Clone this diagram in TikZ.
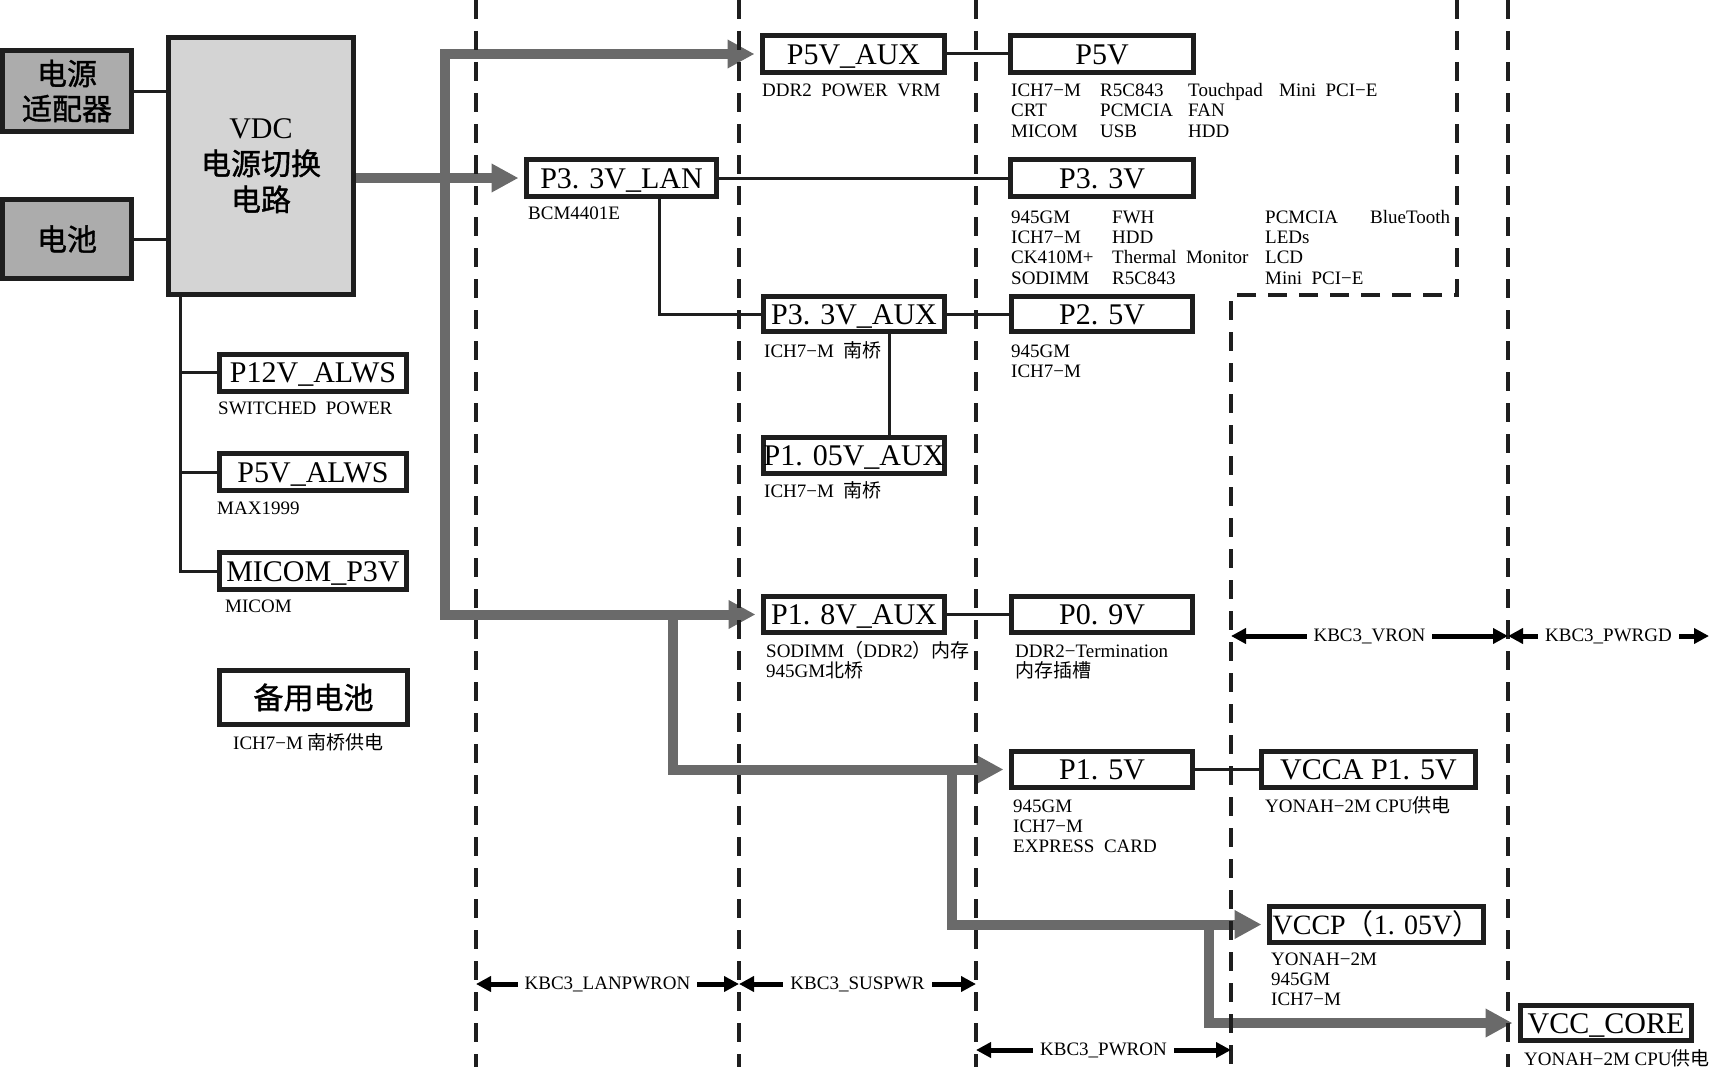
\documentclass[tikz,border=0pt]{standalone}
\usepackage{fontspec}
\setmainfont{Liberation Serif}
\newfontfamily\cjk{Noto Sans CJK SC}
\newfontfamily\cjkb[FakeBold=1.2]{Noto Sans CJK SC}
\usetikzlibrary{arrows.meta,calc}
\definecolor{gfill}{RGB}{172,172,172}
\definecolor{lfill}{RGB}{212,212,212}
\definecolor{garr}{RGB}{106,106,106}
\definecolor{dk}{RGB}{30,30,30}
\begin{document}
\begin{tikzpicture}[x=1pt,y=-1pt,
 frame/.style={draw=dk,line width=5pt,fill=white,inner sep=0pt,minimum height=37pt,font=\fontsize{30}{32}\selectfont},
 bx/.style={frame,text height=21pt,text depth=1pt},
 lbl/.style={anchor=base west,inner sep=0pt,font=\fontsize{19}{20}\selectfont},
 conn/.style={draw=dk,line width=3pt},
 garrow/.style={draw=garr,line width=10pt,line join=miter,shorten >=5.5pt,-{Triangle[length=27pt,width=27pt]}},
 garrow2/.style={draw=garr,line width=10pt,line join=miter,shorten >=5.5pt,shorten <=5.5pt,{Triangle[length=27pt,width=27pt]}-{Triangle[length=27pt,width=27pt]}},
 dline/.style={draw=dk,line width=4pt,dash pattern=on 19pt off 12pt},
 kbc/.style={draw=black,line width=5pt,{Triangle[length=15pt,width=15pt]}-{Triangle[length=15pt,width=15pt]}},
 kbct/.style={fill=white,inner xsep=7pt,inner ysep=1pt,font=\fontsize{19}{20}\selectfont}
]
\useasboundingbox (0,0) rectangle (1711,1073);

% ---------- boxes ----------
\node[frame,fill=gfill,minimum width=129pt,minimum height=81pt,align=center,font=\fontsize{30}{35}\selectfont\cjkb] (adp) at (67,91) {电源\\适配器};
\node[frame,fill=gfill,minimum width=129pt,minimum height=79pt,font=\fontsize{30}{35}\selectfont\cjkb] (bat) at (67,239) {电池};
\node[frame,fill=lfill,minimum width=185pt,minimum height=257pt,align=center,font=\fontsize{30}{36}\selectfont] (vdc) at (261,166) {VDC\\{\cjkb 电源切换}\\{\cjkb 电路}};

\node[bx,minimum width=187pt] (p12) at (313,372.5) {P12V\_ALWS};
\node[bx,minimum width=187pt] (p5a) at (313,472) {P5V\_ALWS};
\node[bx,minimum width=187pt] (mic) at (313,571) {MICOM\_P3V};
\node[frame,minimum width=188pt,minimum height=54pt,font=\fontsize{30}{32}\selectfont\cjkb] (bkb) at (313.5,697.5) {备用电池};

\node[bx,minimum width=182pt] (p5vaux) at (853.5,54) {P5V\_AUX};
\node[bx,minimum width=190pt] (p33lan) at (621.5,178) {P3. 3V\_LAN};
\node[bx,minimum width=181pt,minimum height=35pt] (p33aux) at (854,314) {P3. 3V\_AUX};
\node[bx,minimum width=181pt,minimum height=36pt] (p105) at (854,455.5) {P1. 05V\_AUX};
\node[bx,minimum width=181pt,minimum height=36pt] (p18aux) at (854,614.5) {P1. 8V\_AUX};

\node[bx,minimum width=183pt] (p5v) at (1102,54) {P5V};
\node[bx,minimum width=183pt] (p33) at (1102,178) {P3. 3V};
\node[bx,minimum width=181pt,minimum height=35pt] (p25) at (1102,314) {P2. 5V};
\node[bx,minimum width=181pt,minimum height=36pt] (p09) at (1102,614.5) {P0. 9V};
\node[bx,minimum width=181pt,minimum height=36pt] (p15) at (1102,769.5) {P1. 5V};
\node[bx,minimum width=214pt,minimum height=36pt] (vcca) at (1368.5,769.5) {VCCA P1. 5V};
\node[bx,minimum width=214pt,minimum height=36pt,font=\fontsize{28}{30}\selectfont] (vccp) at (1376.5,924.5) {VCCP{\cjk （}1. 05V{\cjk ）}};
\node[bx,minimum width=171pt,minimum height=35pt] (vcore) at (1606,1023) {VCC\_CORE};

% ---------- labels ----------
\node[lbl] (t01) at (218,414) {SWITCHED\ \ POWER};
\node[lbl] (t02) at (217,514) {MAX1999};
\node[lbl] (t03) at (225,612) {MICOM};
\node[lbl] (t04) at (233,749) {ICH7−M\ {\cjk 南桥供电}};
\node[lbl] (t05) at (762,96) {DDR2\ \ POWER\ \ VRM};
\node[lbl] (t06) at (528,219) {BCM4401E};

\node[lbl] (a11) at (1011,96) {ICH7−M};
\node[lbl] (a12) at (1100,96) {R5C843};
\node[lbl] (a13) at (1188,96) {Touchpad};
\node[lbl] (a14) at (1279,96) {Mini\ \ PCI−E};
\node[lbl] (a21) at (1011,117) {CRT};
\node[lbl] (a22) at (1100,117) {PCMCIA};
\node[lbl] (a23) at (1188,117) {FAN};
\node[lbl] (a31) at (1011,137) {MICOM};
\node[lbl] (a32) at (1100,137) {USB};
\node[lbl] (a33) at (1188,137) {HDD};

\node[lbl] (b11) at (1011,223) {945GM};
\node[lbl] (b12) at (1112,223) {FWH};
\node[lbl] (b13) at (1265,223) {PCMCIA};
\node[lbl] (b14) at (1370,223) {BlueTooth};
\node[lbl] (b21) at (1011,243) {ICH7−M};
\node[lbl] (b22) at (1112,243) {HDD};
\node[lbl] (b23) at (1265,243) {LEDs};
\node[lbl] (b31) at (1011,263) {CK410M+};
\node[lbl] (b32) at (1112,263) {Thermal\ \ Monitor};
\node[lbl] (b33) at (1265,263) {LCD};
\node[lbl] (b41) at (1011,284) {SODIMM};
\node[lbl] (b42) at (1112,284) {R5C843};
\node[lbl] (b43) at (1265,284) {Mini\ \ PCI−E};

\node[lbl] (t07) at (764,357) {ICH7−M\ \ {\cjk 南桥}};
\node[lbl] (t08) at (764,497) {ICH7−M\ \ {\cjk 南桥}};
\node[lbl] (t09) at (766,657) {SODIMM{\cjk （}DDR2{\cjk ）内存}};
\node[lbl] (t10) at (766,677) {945GM{\cjk 北桥}};
\node[lbl] (t11) at (1011,357) {945GM};
\node[lbl] (t12) at (1011,377) {ICH7−M};
\node[lbl] (t13) at (1015,657) {DDR2−Termination};
\node[lbl] (t14) at (1015,677) {\cjk 内存插槽};
\node[lbl] (t15) at (1013,812) {945GM};
\node[lbl] (t16) at (1013,832) {ICH7−M};
\node[lbl] (t17) at (1013,852) {EXPRESS\ \ CARD};
\node[lbl] (t18) at (1265,812) {YONAH−2M\ CPU{\cjk 供电}};
\node[lbl] (t19) at (1271,965) {YONAH−2M};
\node[lbl] (t20) at (1271,985) {945GM};
\node[lbl] (t21) at (1271,1005) {ICH7−M};
\node[lbl] (t22) at (1524,1065) {YONAH−2M\ CPU{\cjk 供电}};

% ---------- black connectors ----------
\draw[conn] (adp.east) -- (adp.east -| vdc.west);
\draw[conn] (bat.east) -- (bat.east -| vdc.west);
\coordinate (vb) at ($(vdc.south west)+(14.5,0)$);
\draw[conn] (vb) |- (mic.west);
\draw[conn] (vb |- p12.west) -- (p12.west);
\draw[conn] (vb |- p5a.west) -- (p5a.west);
\draw[conn] (p5vaux.east) -- (p5v.west);
\draw[conn] (p33lan.east) -- (p33.west);
\draw[conn] ($(p33lan.south)+(37.5,0)$) |- (p33aux.west);
\draw[conn] (p33aux.east) -- (p25.west);
\draw[conn] ($(p33aux.south)+(35,0)$) -- ($(p105.north)+(35,0)$);
\draw[conn] (p18aux.east) -- (p09.west);
\draw[conn] (p15.east) -- (vcca.west);

% ---------- gray power paths ----------
\coordinate (gA) at (445,54);
\coordinate (gB) at (445,614.5);
\draw[garrow2] (p5vaux.west) -- (gA) -- (gB) -- (p18aux.west);
\draw[garrow] (vdc.east |- p33lan.west) -- (p33lan.west);
\coordinate (gC) at (673,614.5);
\draw[garrow] (gC) |- (p15.west);
\coordinate (gD) at (952,769.5);
\draw[garrow] (gD) |- (vccp.west);
\coordinate (gE) at (1209,924.5);
\draw[garrow] (gE) |- (vcore.west);

% ---------- dashed boundaries ----------
\draw[dline] (476,0) -- (476,1067);
\draw[dline] (739,0) -- (739,1067);
\draw[dline] (976,0) -- (976,1067);
\draw[dline] (1508,0) -- (1508,1067);
\draw[dline] (1457,0) -- (1457,295) -- (1231,295) -- (1231,1067);

% ---------- KBC signals ----------
\coordinate (k1) at (476,984);
\coordinate (k2) at (739,984);
\coordinate (k3) at (976,984);
\coordinate (k4) at (976,1050);
\coordinate (k5) at (1231,1050);
\coordinate (k6) at (1231,636);
\coordinate (k7) at (1508,636);
\coordinate (k8) at (1709,636);
\draw[kbc] (k1) -- (k2) node[kbct,midway] (s1) {KBC3\_LANPWRON};
\draw[kbc] (k2) -- (k3) node[kbct,midway] (s2) {KBC3\_SUSPWR};
\draw[kbc] (k4) -- (k5) node[kbct,midway] (s3) {KBC3\_PWRON};
\draw[kbc] (k6) -- (k7) node[kbct,midway] (s4) {KBC3\_VRON};
\draw[kbc] (k7) -- (k8) node[kbct,midway] (s5) {KBC3\_PWRGD};
\end{tikzpicture}
\end{document}
